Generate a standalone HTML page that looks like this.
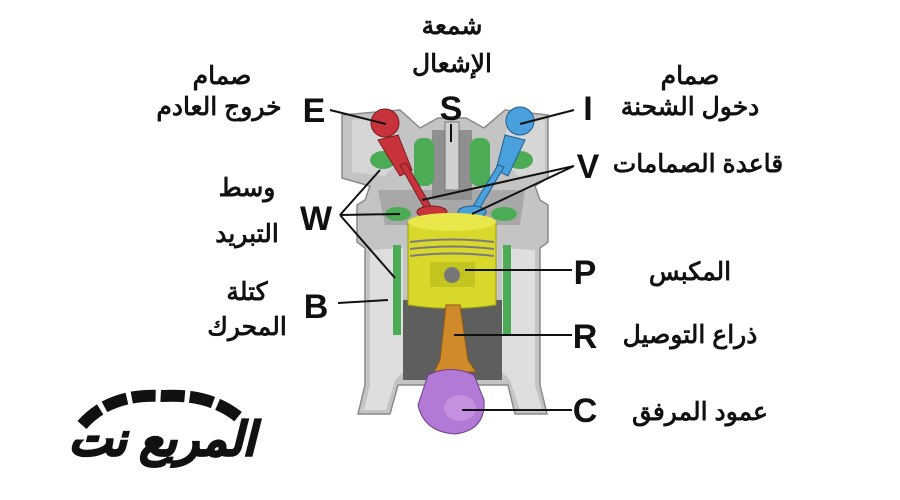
<!DOCTYPE html>
<html><head><meta charset="utf-8"><style>
html,body{margin:0;padding:0;background:#fff;width:900px;height:500px;overflow:hidden}
svg{display:block}
.L{font-family:"Liberation Sans",sans-serif;font-weight:bold;font-size:34px;fill:#111}
.A{font-family:"Liberation Sans","Noto Sans CJK SC",sans-serif;font-weight:bold;font-size:25px;fill:#111}
</style></head><body>
<svg width="900" height="500" viewBox="0 0 900 500" xmlns="http://www.w3.org/2000/svg">
<!-- engine block -->
<path d="M342 115 L400 110 L420 128 L438 118 L466 118 L484 128 L505 110 L548 115 L548 178 L535 186 L540 200 L548 205 L548 242 L540 248 L540 385 L547 414 L515 414 L508 385 L398 385 L390 414 L358 414 L365 385 L365 248 L357 242 L357 205 L365 200 L370 186 L342 178 Z" fill="#c4c4c4" stroke="#8a8a8a" stroke-width="1.5"/>
<path d="M370 250 L370 385 L364 410 L386 410 L395 380 L403 372 L403 248 Z" fill="#dedede"/>
<path d="M535 250 L535 385 L542 410 L520 410 L510 380 L502 372 L502 248 Z" fill="#dedede"/>
<path d="M352 120 L395 116 L400 160 L385 176 L352 172 Z" fill="#d6d6d6"/>
<path d="M545 120 L508 116 L503 160 L518 176 L545 172 Z" fill="#d6d6d6"/>
<path d="M403 300 L502 300 L502 380 L403 380 Z" fill="#5e5e5e"/>
<path d="M378 190 L525 190 L520 225 L385 225 Z" fill="#a8a8a8"/>
<path d="M432 130 L472 130 L472 200 L432 200 Z" fill="#8f8f8f"/>
<rect x="445" y="122" width="14" height="68" fill="#d0d0d0" stroke="#777"/>
<!-- cooling -->
<g fill="#4cab55">
<rect x="414" y="138" width="20" height="48" rx="8"/>
<rect x="470" y="138" width="20" height="48" rx="8"/>
<ellipse cx="383" cy="160" rx="13" ry="9"/>
<ellipse cx="520" cy="160" rx="13" ry="9"/>
<ellipse cx="398" cy="214" rx="13" ry="7"/>
<ellipse cx="504" cy="214" rx="13" ry="7"/>
<rect x="393" y="245" width="8" height="90"/>
<rect x="503" y="245" width="8" height="90"/>
</g>
<!-- valves -->
<g fill="#c8333b" stroke="#7a1e22" stroke-width="1">
<circle cx="385" cy="123" r="14"/>
<path d="M378 140 L398 135 L412 170 L400 176 Z"/>
<path d="M400 165 L406 163 L432 208 L426 211 Z"/>
<ellipse cx="432" cy="212" rx="15" ry="6"/>
</g>
<g fill="#4a9fdd" stroke="#1f5f8f" stroke-width="1">
<circle cx="520" cy="121" r="14"/>
<path d="M505 135 L525 140 L508 176 L496 170 Z"/>
<path d="M498 165 L504 167 L478 211 L472 208 Z"/>
<ellipse cx="472" cy="212" rx="14" ry="6"/>
</g>
<!-- piston -->
<path d="M408 222 Q452 212 496 222 L496 305 Q452 312 408 305 Z" fill="#d8d82a" stroke="#9a9a10"/>
<ellipse cx="452" cy="222" rx="44" ry="9" fill="#e8e84a"/>
<path d="M410 242 Q452 237 494 242 M410 249 Q452 244 494 249 M410 256 Q452 251 494 256" stroke="#7a7a80" stroke-width="2" fill="none"/>
<rect x="430" y="262" width="45" height="25" fill="#c4c420"/>
<circle cx="452" cy="275" r="8" fill="#777"/>
<!-- rod -->
<path d="M446 305 L460 305 L468 360 L476 372 L434 372 L440 360 Z" fill="#d18a2a" stroke="#8a5a15"/>
<!-- crank -->
<path d="M428 375 Q450 364 474 375 L484 400 Q486 430 455 434 Q424 432 418 405 Z" fill="#b379d6" stroke="#6d3f8a"/>
<ellipse cx="460" cy="408" rx="16" ry="13" fill="#c590e0"/>
<!-- leader lines -->
<g stroke="#111" stroke-width="2" fill="none">
<path d="M330 110 L386 124"/>
<path d="M451 124 L451 142"/>
<path d="M574 110 L520 124"/>
<path d="M574 166 L422 200 M574 166 L472 214"/>
<path d="M340 215 L380 170 M340 215 L400 214 M340 215 L395 278"/>
<path d="M338 303 L388 300"/>
<path d="M572 270 L465 270"/>
<path d="M572 335 L454 335"/>
<path d="M572 410 L462 410"/>
</g>
<!-- letters -->
<text class="L" x="314" y="122" text-anchor="middle">E</text>
<text class="L" x="451" y="120" text-anchor="middle">S</text>
<text class="L" x="588" y="120" text-anchor="middle">I</text>
<text class="L" x="588" y="178" text-anchor="middle">V</text>
<text class="L" x="316" y="230" text-anchor="middle">W</text>
<text class="L" x="316" y="318" text-anchor="middle">B</text>
<text class="L" x="585" y="284" text-anchor="middle">P</text>
<text class="L" x="585" y="348" text-anchor="middle">R</text>
<text class="L" x="585" y="422" text-anchor="middle">C</text>
<!-- arabic -->
<g class="A" text-anchor="middle" direction="rtl">
<text x="222" y="84">صمام</text>
<text x="219" y="115">خروج العادم</text>
<text x="452" y="34">شمعة</text>
<text x="452" y="72">الإشعال</text>
<text x="690" y="84">صمام</text>
<text x="690" y="115">دخول الشحنة</text>
<text x="698" y="172">قاعدة الصمامات</text>
<text x="247" y="196">وسط</text>
<text x="247" y="242">التبريد</text>
<text x="247" y="300">كتلة</text>
<text x="247" y="335">المحرك</text>
<text x="690" y="280">المكبس</text>
<text x="690" y="343">ذراع التوصيل</text>
<text x="700" y="420">عمود المرفق</text>
</g>
<!-- logo -->
<path d="M82 425 Q110 393 162 396 Q212 393 242 420" stroke="#111" stroke-width="12" fill="none" stroke-dasharray="24 5"/>
<text x="162" y="455" text-anchor="middle" direction="rtl" style="font-family:'Liberation Sans','Noto Sans CJK SC',sans-serif;font-weight:bold;font-style:italic;font-size:46px;fill:#111;stroke:#111;stroke-width:2">المربع نت</text>
</svg>
</body></html>
